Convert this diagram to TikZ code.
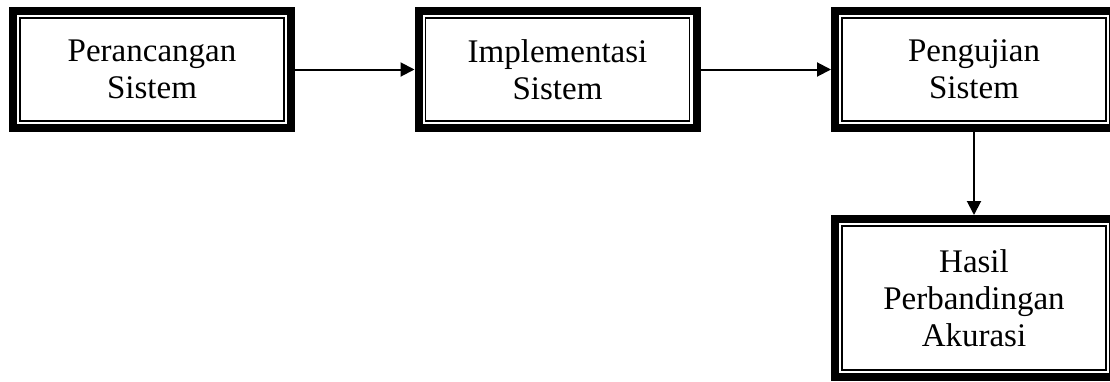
\documentclass[tikz,border=0pt]{standalone}
\usepackage{fontspec}
\setmainfont{Liberation Serif}
\usetikzlibrary{positioning}
\usetikzlibrary{arrows.meta}

\begin{document}
\begin{tikzpicture}[x=0.5pt,y=-0.5pt,>={Triangle[length=7pt,width=7pt]},
                    stage/.style={draw,line width=0.6pt,outer sep=0pt,inner sep=0pt,align=center,
                                  font=\fontsize{16.5}{18.5}\selectfont,
                                  minimum width=132pt,minimum height=51.5pt},
                    frame/.style={line width=4pt},
                    flow/.style={->,line width=1pt,shorten >=5.5pt,shorten <=5.5pt}]
      \clip (0,0) rectangle (1110,381);

      \node[stage] (1) at (152,69.5) {Perancangan\\Sistem};
      \node[stage] (2) at (557.5,69.5) {Implementasi\\Sistem};
      \node[stage] (3) at (974,69.5) {Pengujian\\Sistem};
      \node[stage, minimum height=72pt] (4) at (974,298) {Hasil\\Perbandingan\\Akurasi};

      % thick outer frame round each box
      \foreach \n in {1,...,4}
        \draw[frame] ([shift={(-7,-7)}]\n.north west) rectangle ([shift={(7,7)}]\n.south east);

      \path[flow]
	(1) edge (2)
	(2) edge (3)
	(3) edge (4);
    \end{tikzpicture}
\end{document}
